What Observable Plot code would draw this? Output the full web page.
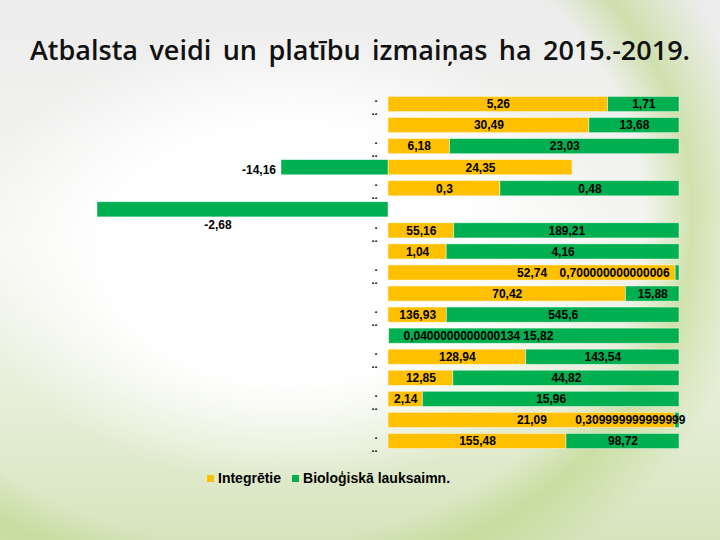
<!DOCTYPE html>
<html>
<head>
<meta charset="utf-8">
<script src="https://cdn.jsdelivr.net/npm/d3@7"></script>
<script src="https://cdn.jsdelivr.net/npm/@observablehq/plot@0.6"></script>
<style>
  html, body { margin: 0; padding: 0; }
  #page {
    position: relative; width: 720px; height: 540px; overflow: hidden;
    background:
      radial-gradient(ellipse 330px 230px at 290px 255px, rgba(255,255,255,1) 55%, rgba(255,255,255,0) 100%),
      radial-gradient(ellipse 560px 470px at 250px 215px, rgba(255,255,255,0) 70%, rgba(190,216,140,0.65) 79%, rgba(255,255,255,0) 92%),
      linear-gradient(180deg, #ececec 0%, #f5f6f2 45%, #e4edd4 78%, #d6e4bd 100%);
  }
  #title {
    height: 56px; padding-top: 22px; line-height: 56px;
    text-align: center; white-space: nowrap;
    font-family: "Open Sans", "Noto Sans", sans-serif; font-weight: 600; font-size: 27px; color: #111;
  }
  #chart { height: 390px; }
  #legend {
    position: absolute; left: 207px; top: 470px; display: flex; align-items: center;
    font-family: "Liberation Sans", Arial, sans-serif; font-weight: bold; font-size: 14px; color: #000;
  }
  #legend .sw { display: inline-block; width: 7px; height: 7px; margin-right: 4px; }
  #legend .item { display: flex; align-items: center; margin-right: 11px; }
</style>
</head>
<body>
<div id="page">
  <div id="title">Atbalsta veidi un platību izmaiņas ha 2015.-2019.</div>
  <div id="chart"></div>
  <div id="legend"></div>
</div>
<script>
// ---- data ----
const seriesNames = ["Integrētie", "Bioloģiskā lauksaimn."];
const seriesColors = ["#FFC000", "#00B050"];
const rowIds = [1, 2, 3, 4, 5, 6, 7, 8, 9, 10, 11, 12, 13, 14, 15, 16, 17];
const integretie = [5.26, 30.49, 6.18, 24.35, 0.3, 0, 55.16, 1.04, 52.74, 70.42, 136.93, 0.0400000000000134, 128.94, 12.85, 2.14, 21.09, 155.48];
const biologiska = [1.71, 13.68, 23.03, -14.16, 0.48, -2.68, 189.21, 4.16, 0.700000000000006, 15.88, 545.6, 15.82, 143.54, 44.82, 15.96, 0.309999999999999, 98.72];
const tickLabels = [".\n..", "", ".\n..", "", ".\n..", "", ".\n..", "", ".\n..", "", ".\n..", "", ".\n..", "", ".\n..", "", ".\n.."];

// manual label nudges (pixels), keyed "row|series"
const labelNudge = {
  "4|1": {dx: -76, dy: 2},
  "6|1": {dx: -25, dy: 15},
  "9|1": {dx: -63, dy: 0},
  "12|0": {dx: 73, dy: 0},
  "12|1": {dx: 4, dy: 0},
  "16|1": {dx: -47, dy: 0}
};

// ---- 100% stacking (Excel style: share of absolute total) ----
const segs = [];
rowIds.forEach((row, i) => {
  const vals = [integretie[i], biologiska[i]];
  const total = d3.sum(vals, Math.abs);
  let pos = 0, neg = 0;
  vals.forEach((v, s) => {
    let x1, x2;
    if (v >= 0) { x1 = pos; x2 = pos + v / total; pos = x2; }
    else { x2 = neg; x1 = neg + v / total; neg = x1; }
    const n = labelNudge[row + "|" + s] || {dx: 0, dy: 0};
    segs.push({row, series: seriesNames[s], value: v, x1, x2, dx: n.dx, dy: n.dy});
  });
});
const fmt = v => String(v).replace(".", ",");
const labelled = segs.filter(d => d.value !== 0);

const labelMarks = labelled.map(d => Plot.text([d], {
  x: d => (d.x1 + d.x2) / 2, y: "row", text: d => fmt(d.value),
  dx: d.dx, dy: d.dy,
  fontSize: 12, fontWeight: "bold", fill: "#000",
  fontFamily: "Liberation Sans, Arial, sans-serif"
}));

const chart = Plot.plot({
  width: 720, height: 390,
  marginLeft: 97, marginRight: 41, marginTop: 14.2, marginBottom: 15.2,
  style: {background: "transparent", fontFamily: "Liberation Sans, Arial, sans-serif"},
  x: {domain: [-1, 1], axis: null},
  y: {domain: rowIds, paddingInner: 0.28, paddingOuter: 0.2, round: false, axis: null},
  color: {domain: seriesNames, range: seriesColors},
  marks: [
    Plot.barX(segs, {x1: "x1", x2: "x2", y: "row", fill: "series", stroke: "#ffffff", strokeOpacity: 0.55, strokeWidth: 0.8}),
    Plot.axisY({
      ticks: rowIds, tickSize: 0, tickPadding: 11,
      tickFormat: (d) => tickLabels[rowIds.indexOf(d)],
      fontSize: 11, fontWeight: "bold", lineHeight: 1.18, fill: "#000",
      anchor: "left", dx: 388 - 97, label: null
    }),
    ...labelMarks
  ]
});
document.getElementById("chart").appendChild(chart);

// ---- legend ----
const legend = document.getElementById("legend");
seriesNames.forEach((name, i) => {
  const item = document.createElement("span");
  item.className = "item";
  const sw = document.createElement("span");
  sw.className = "sw";
  sw.style.background = seriesColors[i];
  item.appendChild(sw);
  item.appendChild(document.createTextNode(name));
  legend.appendChild(item);
});

// ---- fit title width (~660px) with word spacing ----
const titleEl = document.getElementById("title");
const ctx = document.createElement("canvas").getContext("2d");
ctx.font = "600 27px 'Open Sans'";
const w = ctx.measureText(titleEl.textContent).width;
const spaces = (titleEl.textContent.match(/ /g) || []).length;
titleEl.style.wordSpacing = Math.max(0, (660 - w) / spaces) + "px";
</script>
</body>
</html>
